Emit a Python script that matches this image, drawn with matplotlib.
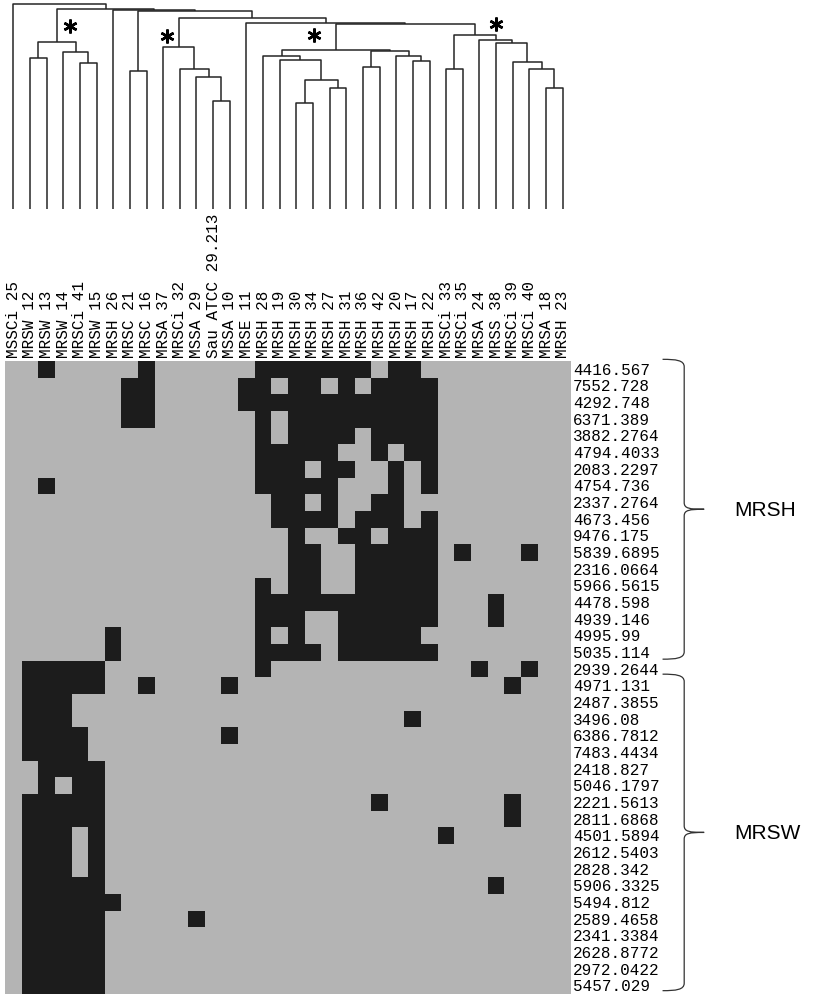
import numpy as np
import matplotlib.pyplot as plt
from matplotlib.colors import ListedColormap
from matplotlib.path import Path
from matplotlib.patches import PathPatch

# isolates (heatmap columns, dendrogram leaf order)
isolates = ['MSSCi 25', 'MRSW 12', 'MRSW 13', 'MRSW 14', 'MRSCi 41', 'MRSW 15',
            'MRSH 26', 'MRSC 21', 'MRSC 16', 'MRSA 37', 'MRSCi 32', 'MSSA 29',
            'Sau ATCC 29.213', 'MSSA 10', 'MRSE 11', 'MRSH 28', 'MRSH 19', 'MRSH 30',
            'MRSH 34', 'MRSH 27', 'MRSH 31', 'MRSH 36', 'MRSH 42', 'MRSH 20',
            'MRSH 17', 'MRSH 22', 'MRSCi 33', 'MRSCi 35', 'MRSA 24', 'MRSS 38',
            'MRSCi 39', 'MRSCi 40', 'MRSA 18', 'MRSH 23']

# peak masses (heatmap rows)
peaks = ['4416.567', '7552.728', '4292.748', '6371.389', '3882.2764', '4794.4033',
         '2083.2297', '4754.736', '2337.2764', '4673.456', '9476.175', '5839.6895',
         '2316.0664', '5966.5615', '4478.598', '4939.146', '4995.99', '5035.114',
         '2939.2644', '4971.131', '2487.3855', '3496.08', '6386.7812', '7483.4434',
         '2418.827', '5046.1797', '2221.5613', '2811.6868', '4501.5894', '2612.5403',
         '2828.342', '5906.3325', '5494.812', '2589.4658', '2341.3384', '2628.8772',
         '2972.0422', '5457.029']

# columns where each peak is present
present = [
    [2, 8, 15, 16, 17, 18, 19, 20, 21, 23, 24],
    [7, 8, 14, 15, 17, 18, 20, 22, 23, 24, 25],
    [7, 8, 14, 15, 16, 17, 18, 19, 20, 21, 22, 23, 24, 25],
    [7, 8, 15, 17, 18, 19, 20, 21, 22, 23, 24, 25],
    [15, 17, 18, 19, 20, 22, 23, 24, 25],
    [15, 16, 17, 18, 19, 22, 24, 25],
    [15, 16, 17, 19, 20, 23, 25],
    [2, 15, 16, 17, 18, 19, 23, 25],
    [16, 17, 19, 22, 23],
    [16, 17, 18, 19, 21, 22, 23, 25],
    [17, 20, 21, 23, 24, 25],
    [17, 18, 21, 22, 23, 24, 25, 27, 31],
    [17, 18, 21, 22, 23, 24, 25],
    [15, 17, 18, 21, 22, 23, 24, 25],
    [15, 16, 17, 18, 19, 20, 21, 22, 23, 24, 25, 29],
    [15, 16, 17, 20, 21, 22, 23, 24, 25, 29],
    [6, 15, 17, 20, 21, 22, 23, 24],
    [6, 15, 16, 17, 18, 20, 21, 22, 23, 24, 25],
    [1, 2, 3, 4, 5, 15, 28, 31],
    [1, 2, 3, 4, 5, 8, 13, 30],
    [1, 2, 3],
    [1, 2, 3, 24],
    [1, 2, 3, 4, 13],
    [1, 2, 3, 4],
    [2, 3, 4, 5],
    [2, 4, 5],
    [1, 2, 3, 4, 5, 22, 30],
    [1, 2, 3, 4, 5, 30],
    [1, 2, 3, 5, 26],
    [1, 2, 3, 5],
    [1, 2, 3, 5],
    [1, 2, 3, 4, 5, 29],
    [1, 2, 3, 4, 5, 6],
    [1, 2, 3, 4, 5, 11],
    [1, 2, 3, 4, 5],
    [1, 2, 3, 4, 5],
    [1, 2, 3, 4, 5],
    [1, 2, 3, 4, 5],
]

# dendrogram: (left, right, merge height), leaves are column indices
left5 = ((1, 2, 150.7), (3, (4, 5, 145.7), 156.7), 166.7)
pair78 = (7, 8, 138.3)
grp9 = (9, (10, (11, (12, 13, 107.7), 131.7), 140.0), 162.3)
grpA = (15, (16, ((17, 18, 106.0), (19, 20, 120.7), 129.0), 149.3), 153.3)
grpB = ((21, 22, 142.3), (23, (24, 25, 148.3), 152.7), 158.3)
grp_mid = (grpA, grpB, 159.5)
grp_right = ((26, 27, 140.0),
             (28, (29, (30, (31, (32, 33, 120.7), 140.0), 147.3), 165.7), 169.0),
             174.0)
tree = (0, (left5, (6, (pair78, (grp9, (14, (grp_mid, grp_right, 185.2), 185.7),
                                      191.5), 198.5), 199.2), 200.0), 205.0)

# starred clusters: (cluster, x offset in columns, height)
stars = [(left5, 0.8, 183), (grp9, -0.68, 173), (grp_mid, -1.32, 174),
         (grp_right, 1.29, 185)]

groups = [('MRSH', -0.1, 17.9), ('MRSW', 18.8, 37.8)]

W, H = 816, 995
fig = plt.figure(figsize=(W / 100, H / 100), dpi=100)
mono = 'Liberation Mono'
line_c = '#262626'

# heatmap
mat = np.zeros((len(peaks), len(isolates)))
for r, cols in enumerate(present):
    mat[r, cols] = 1

ax = fig.add_axes([5 / W, 0, 566 / W, 633 / H])
ax.imshow(mat, cmap=ListedColormap(['#b4b4b4', '#1c1c1c']), aspect='auto',
          interpolation='nearest', extent=(0, len(isolates), len(peaks), 0))
ax.set_xticks([])
ax.set_yticks([])
for s in ax.spines.values():
    s.set_visible(False)

for c, name in enumerate(isolates):
    ax.text(c + 0.5, -0.25, name, rotation=90, ha='center', va='bottom',
            family=mono, fontsize=11.5, clip_on=False)
for r, p in enumerate(peaks):
    ax.text(34.12, r + 0.5, p, ha='left', va='center', family=mono,
            fontsize=11.5, clip_on=False)


def brace(y0, y1, x0=39.5, x1=40.8, x2=42.0):
    ym = (y0 + y1) / 2
    verts = [(x0, y0), (x0 + 0.8, y0), (x1, y0 + 0.05), (x1, y0 + 0.45),
             (x1, ym - 0.4),
             (x1, ym - 0.05), (x1 + 0.3, ym), (x2, ym),
             (x2, ym),
             (x1 + 0.3, ym), (x1, ym + 0.05), (x1, ym + 0.4),
             (x1, y1 - 0.45),
             (x1, y1 - 0.05), (x0 + 0.8, y1), (x0, y1)]
    codes = ([Path.MOVETO] + [Path.CURVE4] * 3 + [Path.LINETO] + [Path.CURVE4] * 3 +
             [Path.MOVETO] + [Path.CURVE4] * 3 + [Path.LINETO] + [Path.CURVE4] * 3)
    ax.add_patch(PathPatch(Path(verts, codes), fill=False, lw=0.9,
                           edgecolor='#333333', clip_on=False))
    return x2, ym


for name, y0, y1 in groups:
    x2, ym = brace(y0, y1)
    ax.text(x2 + 1.8, ym, name, ha='left', va='center', family='Liberation Sans',
            fontsize=15, clip_on=False)

# dendrogram
axd = fig.add_axes([5 / W, (H - 210) / H, 566 / W, 210 / H])
axd.set_xlim(0, len(isolates))
axd.set_ylim(0, 210)
axd.axis('off')


def node_x(n):
    if isinstance(n, int):
        return n + 0.5
    return (node_x(n[0]) + node_x(n[1])) / 2


def draw(n):
    if isinstance(n, int):
        return n + 0.5, 0.0
    xl, hl = draw(n[0])
    xr, hr = draw(n[1])
    axd.plot([xl, xl, xr, xr], [hl, n[2], n[2], hr], color=line_c, lw=1.1,
             solid_capstyle='butt', clip_on=False)
    return (xl + xr) / 2, n[2]


draw(tree)
for cl, dx, h in stars:
    axd.plot(node_x(cl) + dx, h, marker=(6, 2, 0), ms=10, mew=1.8,
             color='black', clip_on=False)

fig.savefig('out.png', dpi=100, facecolor='white')
